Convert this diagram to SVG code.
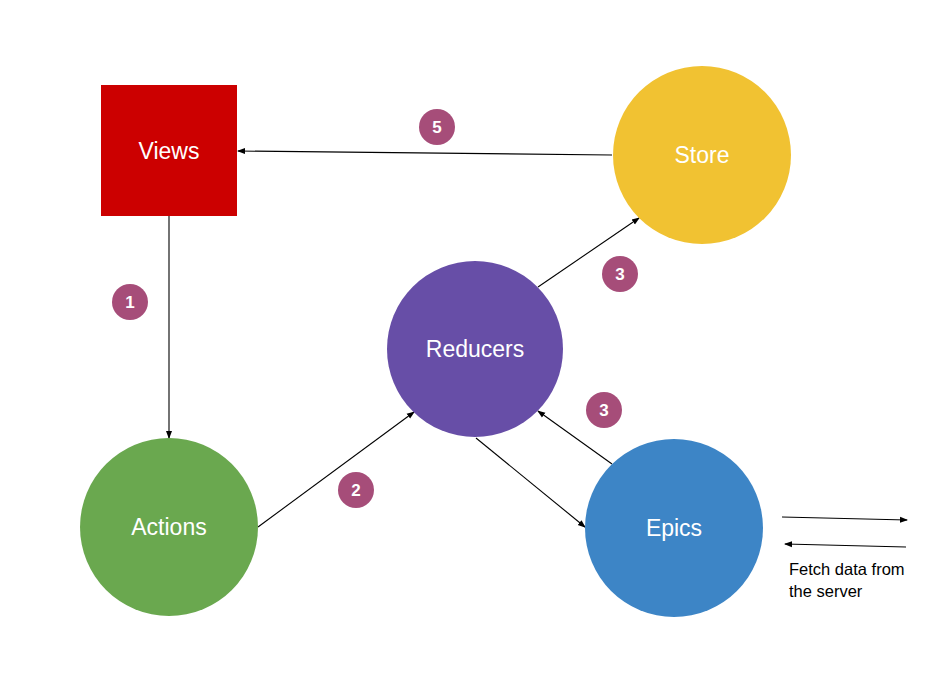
<svg xmlns="http://www.w3.org/2000/svg" width="949" height="699" viewBox="0 0 949 699">
<style>
.lbl{font-family:"Liberation Sans",Arial,sans-serif;font-size:23px;fill:#fff;text-anchor:middle;dominant-baseline:central}
.b{fill:#A64D79}
.bt{font-family:"Liberation Sans",Arial,sans-serif;font-size:17px;font-weight:bold;fill:#fff;text-anchor:middle;dominant-baseline:central}
.c{stroke:#000;stroke-width:1.1;fill:none;marker-end:url(#ah)}
.note{font-family:"Liberation Sans",Arial,sans-serif;font-size:16.5px;fill:#000}
</style>
<defs>
<marker id="ah" markerWidth="8" markerHeight="8" refX="7" refY="4" orient="auto" markerUnits="userSpaceOnUse">
<path d="M0,1 L8,4 L0,7 Z" fill="#000"/>
</marker>
</defs>
<rect width="949" height="699" fill="#fff"/>
<g id="connectors">
<line class="c" x1="612" y1="155" x2="238" y2="151"/>
<line class="c" x1="169" y1="216" x2="169" y2="438"/>
<line class="c" x1="258" y1="527" x2="414" y2="412"/>
<line class="c" x1="538" y1="287" x2="639" y2="218"/>
<line class="c" x1="612" y1="464" x2="538" y2="411"/>
<line class="c" x1="476" y1="438" x2="585" y2="527"/>
<line class="c" x1="782" y1="517" x2="907" y2="520"/>
<line class="c" x1="906" y1="547" x2="785" y2="544"/>
</g>
<g id="views">
<rect x="101" y="85" width="136" height="131" fill="#CC0000"/>
<text class="lbl" x="169" y="151">Views</text>
</g>
<g id="store">
<circle cx="702" cy="155" r="89" fill="#F1C232"/>
<text class="lbl" x="702" y="155">Store</text>
</g>
<g id="reducers">
<circle cx="475" cy="349" r="88" fill="#674EA7"/>
<text class="lbl" x="475" y="349">Reducers</text>
</g>
<g id="actions">
<circle cx="169" cy="527" r="89" fill="#6AA84F"/>
<text class="lbl" x="169" y="527">Actions</text>
</g>
<g id="epics">
<circle cx="674" cy="528" r="89" fill="#3D85C6"/>
<text class="lbl" x="674" y="528">Epics</text>
</g>
<g id="badge5"><circle class="b" cx="437" cy="127" r="18"/><text class="bt" x="437" y="127">5</text></g>
<g id="badge3a"><circle class="b" cx="620" cy="274" r="18"/><text class="bt" x="620" y="274">3</text></g>
<g id="badge1"><circle class="b" cx="130" cy="302" r="18"/><text class="bt" x="130" y="302">1</text></g>
<g id="badge3b"><circle class="b" cx="604" cy="410" r="18"/><text class="bt" x="604" y="410">3</text></g>
<g id="badge2"><circle class="b" cx="356" cy="490" r="18"/><text class="bt" x="356" y="490">2</text></g>
<g id="fetch-note">
<text class="note" x="789" y="575">Fetch data from</text>
<text class="note" x="789" y="597">the server</text>
</g>
</svg>
